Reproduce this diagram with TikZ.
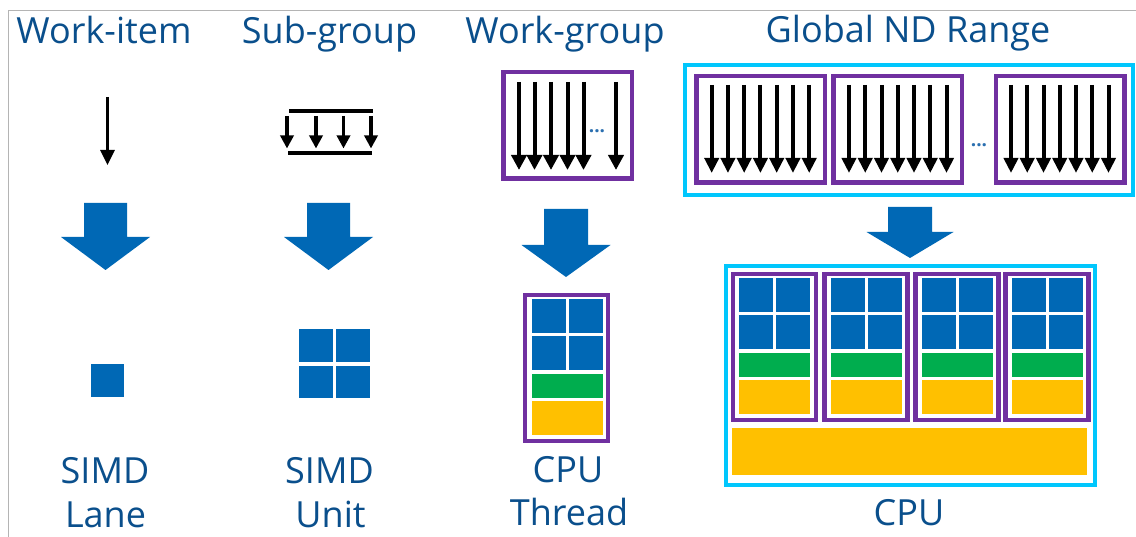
\documentclass[tikz,border=0pt]{standalone}
\usepackage{fontspec}
\setmainfont{Open Sans}
\usetikzlibrary{arrows.meta}
\definecolor{iblue}{HTML}{0068B5}
\definecolor{icyan}{HTML}{00C7FD}
\definecolor{ipurple}{HTML}{7030A0}
\definecolor{igreen}{HTML}{00AD4E}
\definecolor{iyellow}{HTML}{FFC000}
\definecolor{itext}{HTML}{0A4F8C}
\definecolor{idots}{HTML}{2A6FB0}
\definecolor{frame}{HTML}{B4B4B4}
\tikzset{
  lbl/.style={text=itext, font=\fontsize{36}{40}\selectfont, anchor=base, inner sep=0pt},
  dots/.style={text=idots, font=\fontsize{19}{20}\selectfont\bfseries, inner sep=0pt},
  wi/.style={draw=black, line width=3pt, -{Triangle[width=14pt,length=15pt]}},
  wis/.style={draw=black, line width=3.5pt, -{Triangle[width=13pt,length=13pt]}},
  wgarrow/.style={draw=black, line width=4pt, -{Triangle[width=15pt,length=15pt]}},
  bar/.style={draw=black, line width=4.5pt},
  wgbox/.style={draw=ipurple, line width=4.5pt, minimum width=128.5pt, minimum height=106.5pt, inner sep=0pt},
  corebox/.style={draw=ipurple, line width=4.4pt, minimum width=83pt, minimum height=145.6pt, inner sep=0pt},
  devbox/.style={draw=icyan, line width=4pt, inner sep=0pt},
  pics/bigdown/.style n args={4}{code={
    \fill[iblue] (-#1,0) -- (#1,0) -- (#1,#3) -- (#2,#3) -- (0,#4) -- (-#2,#3) -- (-#1,#3) -- cycle;}},
  pics/core/.style={code={
    \fill[iblue] (-35.5,6) rectangle (-1.5,40);
    \fill[iblue] (1.5,6) rectangle (35.5,40);
    \fill[iblue] (-35.5,43.5) rectangle (-1.5,77);
    \fill[iblue] (1.5,43.5) rectangle (35.5,77);
    \fill[igreen] (-35.5,81.5) rectangle (35.5,105.5);
    \fill[iyellow] (-35.5,108.5) rectangle (35.5,142);}}
}
\begin{document}
\begin{tikzpicture}[x=1pt,y=-1pt]
\useasboundingbox (0,0) rectangle (1136,537);
\fill[white] (0,0) rectangle (1136,537);
% outer frame (top and left edges)
\draw[frame, line width=1.5pt] (8.5,537) -- (8.5,10.5) -- (1136,10.5);

% column titles
\node[lbl] (t1) at (104,44) {Work-item};
\node[lbl] (t2) at (329.5,44) {Sub-group};
\node[lbl] (t3) at (565,44) {Work-group};
\node[lbl] (t4) at (908,43) {Global ND Range};

% work-item: a single arrow
\coordinate (wiA) at (107.5,97);
\coordinate (wiB) at (107.5,165);
\draw[wi] (wiA) -- (wiB);

% sub-group: four arrows between two bars
\draw[bar] (289,111) -- (373,111);
\draw[bar] (288,153) -- (372,153);
\foreach \x in {287,316,343.5,371}
  \draw[wis] (\x,116) -- (\x,148.5);

% work-group
\node[wgbox] (wg) at (567.5,125.5) {};
\foreach \x in {519,534.5,551,567.5,583.5,616}
  \draw[wgarrow] (\x,82) -- (\x,170);
\node[dots] (wgdots) at (597,131) {...};

% global ND range
\node[devbox, minimum width=448pt, minimum height=130pt] (gnd) at (909,130) {};
\foreach \cx/\xs in {760.5/711.7, 897.5/849, 1060/1011}{
  \node[wgbox] at (\cx,129.5) {};
  \foreach \k in {0,...,6}
    \draw[wgarrow, -{Triangle[width=14pt,length=15pt]}] (\xs+16.25*\k,85) -- (\xs+16.25*\k,173);
}
\node[dots] (gdots) at (979,145) {...};

% mapping arrows
\pic at (105.5,203) {bigdown={21.5}{44.5}{34}{67}};
\pic at (328.5,203) {bigdown={21.5}{44.5}{34}{67}};
\pic at (566,209) {bigdown={22}{44.5}{36}{68}};
\pic at (910,207) {bigdown={22}{43.5}{25}{51}};

% SIMD lane
\fill[iblue] (91,364) rectangle (124,397);
% SIMD unit
\fill[iblue] (299,329) rectangle (333,362);
\fill[iblue] (336,329) rectangle (370,362);
\fill[iblue] (299,366) rectangle (333,398);
\fill[iblue] (336,366) rectangle (370,398);

% CPU thread
\node[corebox] (thr) at (566.5,368) {};
\pic at (567.5,293) {core};

% CPU
\node[devbox, minimum width=369pt, minimum height=219pt] (cpu) at (910.5,375.5) {};
\foreach \cx in {774.5,866,957,1047}{
  \node[corebox] at (\cx,347) {};
  \pic at (\cx,272) {core};
}
\fill[iyellow] (732,428) rectangle (1087,475);

% hardware labels
\node[lbl] (b1a) at (105,483) {SIMD};
\node[lbl] (b1b) at (105.5,527) {Lane};
\node[lbl] (b2a) at (329.5,483) {SIMD};
\node[lbl] (b2b) at (330.5,527) {Unit};
\node[lbl] (b3a) at (568,482) {CPU};
\node[lbl] (b3b) at (569,525) {Thread};
\node[lbl] (b4) at (909,525) {CPU};
\end{tikzpicture}
\end{document}
